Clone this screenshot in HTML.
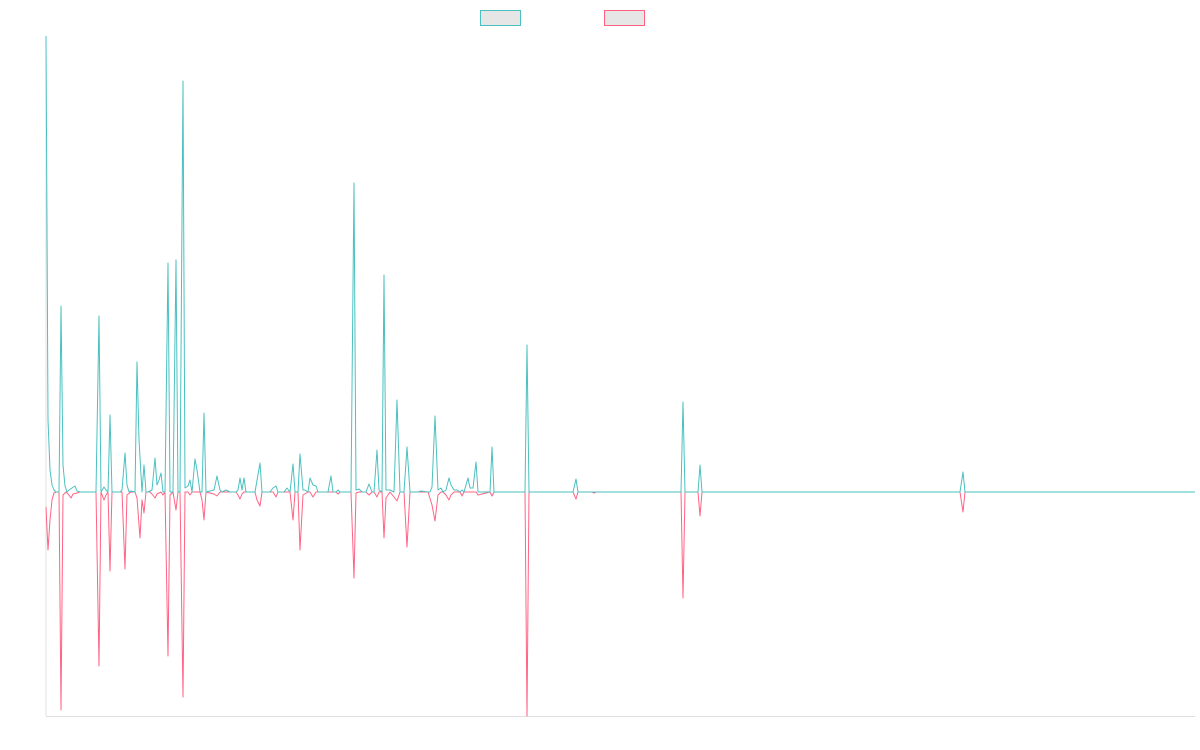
<!DOCTYPE html>
<html><head><meta charset="utf-8"><style>html,body{margin:0;padding:0;background:#fff;width:1200px;height:750px;overflow:hidden}</style></head>
<body>
<svg width="1200" height="750" viewBox="0 0 1200 750" xmlns="http://www.w3.org/2000/svg">
<rect x="480.5" y="10.5" width="40" height="15" fill="#e6e6e6" stroke="#4bc0c0" stroke-width="1"/>
<rect x="604.5" y="10.5" width="40" height="15" fill="#e6e6e6" stroke="#ff6384" stroke-width="1"/>
<line x1="46" y1="36" x2="46" y2="716" stroke="#e0e0e0" stroke-width="1"/>
<line x1="46" y1="716.5" x2="1195" y2="716.5" stroke="#e0e0e0" stroke-width="1"/>
<polyline fill="none" stroke="#ff6384" stroke-width="1" stroke-linejoin="round" points="46,507 48,550 50,520 52,500 54,493 56,492 59,492 61,710 63,495 66,492 69,495 71,498 73,494 77,493 80,492 96,492 99,666 101,492 104,500 106,495 108,492 110,571 112,492 122,492 125,569 127,495 131,492 135,492 137,498 140,538 142,500 144,513 146,492 150,492 152,494 155,498 157,494 161,492 163,495 165,492 168,656 170,495 173,492 176,510 178,492 180,492 183,697 185,492 188,492 190,495 192,492 200,492 202,500 204,520 206,492 214,494 217,496 220,492 236,492 238,495 240,499 242,494 244,492 255,492 257,500 260,506 262,492 273,492 276,497 278,492 290,492 293,520 295,492 298,492 300,550 303,495 308,492 310,492 313,497 316,492 336,492 338,494 340,492 351,492 354,578 356,493 359,492 366,492 369,495 372,492 374,492 377,497 379,492 382,492 384,538 386,498 390,492 394,497 397,501 400,492 404,492 407,547 410,492 428,492 432,505 435,521 438,495 441,492 443,492 446,495 449,500 451,495 454,492 457,492 460,492 462,496 464,492 476,492 478,495 490,492 492,496 494,492 525,492 527,716 529,492 573,492 576,499 578,492 592,492 594,493 596,492 681,492 683,598 685,492 698,492 700,516 702,492 960,492 963,512 965,492 1195,492"/>
<polyline fill="none" stroke="#4bc0c0" stroke-width="1" stroke-linejoin="round" points="46,36 48,420 50,470 52,485 54,490 56,492 59,492 61,306 63,465 65,486 67,492 69,490 72,488 75,486 77,491 80,492 96,492 99,316 101,492 104,487 106,490 108,492 110,415 112,492 116,492 120,492 122,490 125,453 127,485 129,492 131,491 135,492 137,362 139,440 142,492 144,465 146,492 148,492 152,490 155,458 157,485 159,480 161,473 163,492 165,492 168,263 170,492 173,492 176,260 178,492 180,492 183,81 185,488 188,486 190,480 192,492 195,459 197,470 200,492 202,492 204,413 206,492 214,490 217,476 220,490 222,492 226,490 230,492 236,492 238,490 240,478 242,490 244,478 246,492 255,492 260,463 262,492 270,492 273,488 276,486 278,492 284,492 287,488 290,492 293,464 295,492 298,492 300,454 303,490 305,490 308,492 310,478 313,485 316,486 318,492 328,492 331,476 333,492 336,492 338,490 340,492 351,492 354,183 356,490 359,489 362,492 366,492 369,484 372,492 374,492 377,450 379,490 382,492 384,275 386,490 390,490 394,492 397,400 400,492 404,492 407,447 410,492 418,492 421,491 428,492 430,492 432,487 435,416 438,490 441,488 443,492 446,490 449,478 451,485 454,490 457,490 460,492 462,490 464,492 468,478 470,488 473,488 476,462 478,492 490,492 492,447 494,492 506,492 525,492 527,345 529,492 573,492 576,479 578,492 681,492 683,402 685,492 698,492 700,465 702,492 960,492 963,472 965,492 1195,492"/>
</svg>
</body></html>
